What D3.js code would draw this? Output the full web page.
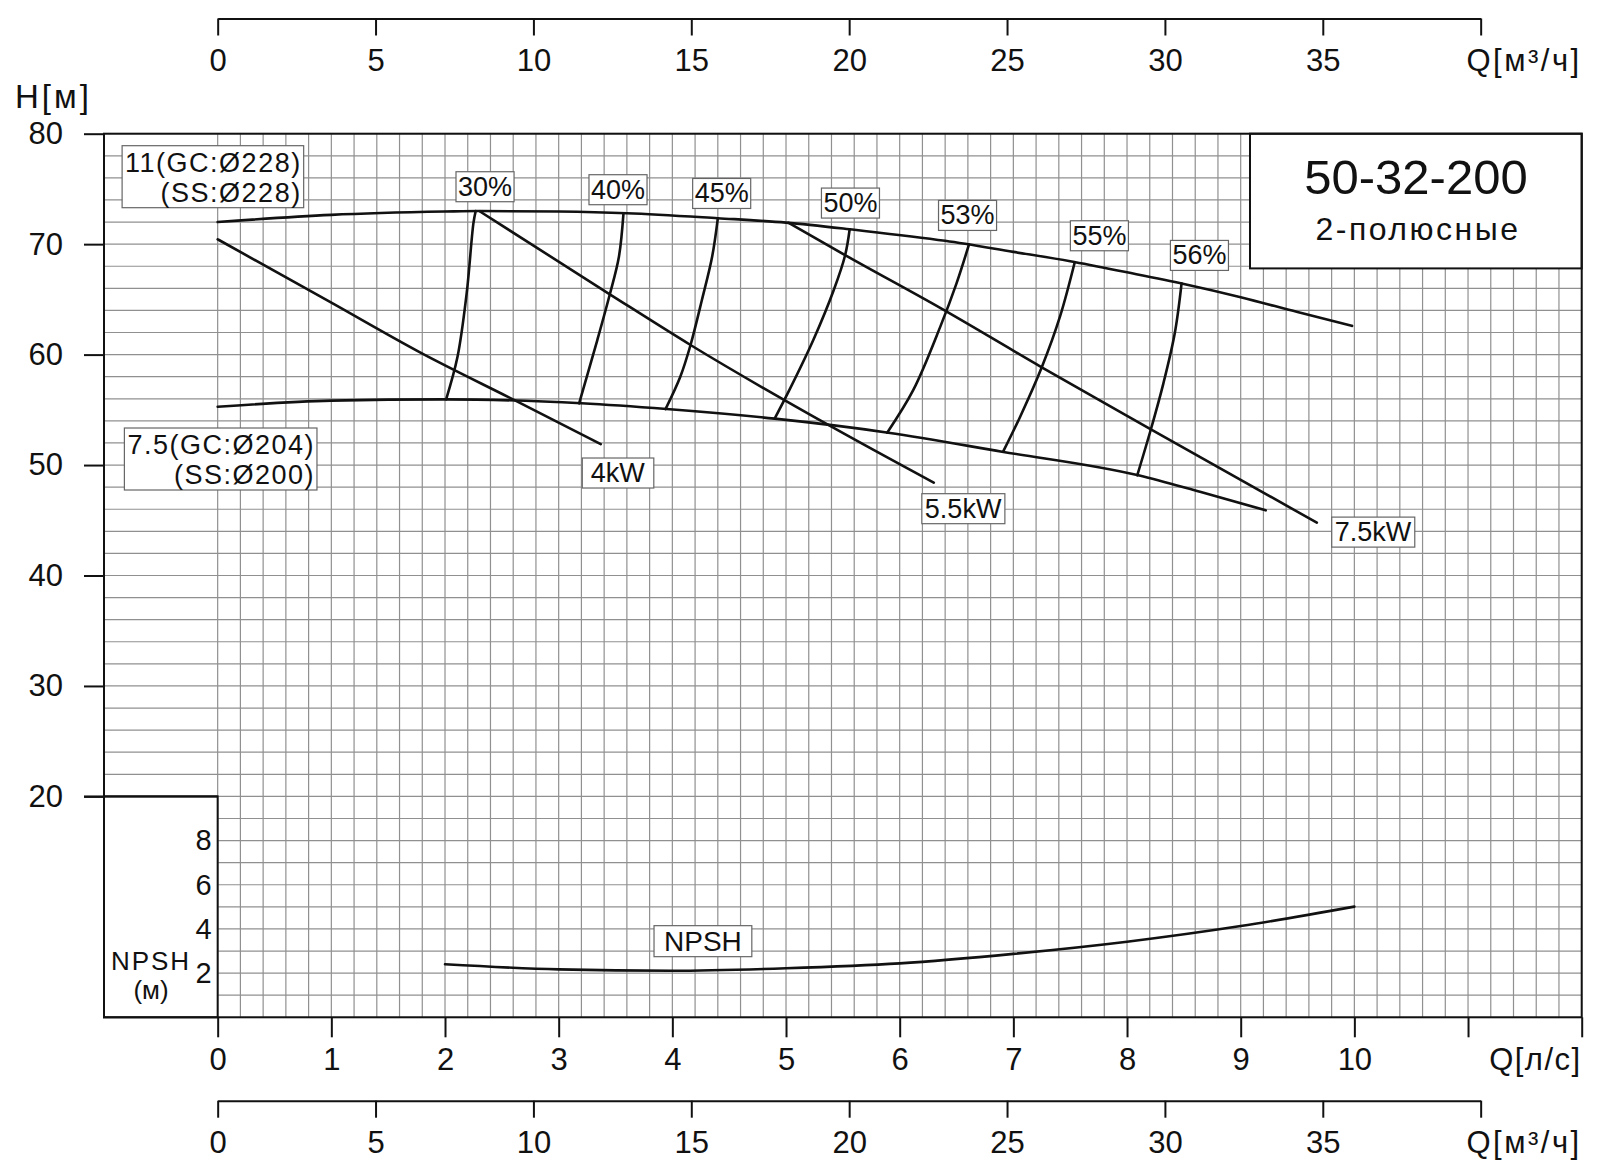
<!DOCTYPE html>
<html>
<head>
<meta charset="utf-8">
<script src="https://cdn.jsdelivr.net/npm/d3@7"></script>
<style>
    body { margin: 0; background: #fff; }
    svg { display: block; font-family: "Liberation Sans", Arial, sans-serif; }
</style>
</head>
<body>
<svg id="chart" width="1600" height="1175"></svg>
<script>
// ---- data (Q in l/s, H in m, NPSH in m) ----
var headTicks = [20, 30, 40, 50, 60, 70, 80];
var npshTicks = [2, 4, 6, 8];
var flowTicksLs = d3.range(0, 13);
var flowTicksM3 = d3.range(0, 41, 5);

// impeller 11 (GC:Ø228 / SS:Ø228)
var head228 = [[0, 72.0], [1, 72.65], [2, 72.95], [2.3, 73.0], [3, 72.95], [3.6, 72.8], [4.4, 72.35],
    [5, 71.95], [5.6, 71.3], [6.4, 70.3], [7, 69.3], [7.5, 68.45], [8, 67.45], [8.5, 66.4],
    [9, 65.2], [9.5, 63.85], [9.98, 62.6]];
// impeller 7.5 (GC:Ø204 / SS:Ø200)
var head204 = [[0, 55.28], [1, 55.83], [2, 55.95], [3.2, 55.59], [3.95, 55.07], [4.9, 54.2],
    [5.9, 52.93], [6.9, 51.21], [8.1, 49.07], [8.65, 47.55], [9.22, 45.9]];

// motor power limits
var power4 = [[0, 70.44], [1, 64.7], [1.78, 60.2], [2.62, 55.83], [3.37, 51.9]];
var power55 = [[2.31, 72.94], [3.45, 65.46], [4.16, 60.87], [5.4, 53.47], [6.3, 48.4]];
var power75 = [[5.02, 71.94], [5.52, 69.0], [6.36, 64.2], [7.25, 58.85], [8.21, 53.24], [9.67, 44.78]];

// iso-efficiency lines
var eff30 = [[2.01, 55.95], [2.11, 59.8], [2.19, 65.5], [2.25, 71.9], [2.27, 73.0]];
var eff40 = [[3.18, 55.59], [3.34, 61.32], [3.45, 65.46], [3.53, 68.86], [3.57, 72.79]];
var eff45 = [[3.94, 55.07], [4.07, 58.0], [4.16, 60.87], [4.26, 64.94], [4.35, 68.86], [4.4, 72.34]];
var eff50 = [[4.9, 54.2], [5.03, 56.8], [5.24, 61.32], [5.42, 65.85], [5.52, 69.0], [5.56, 71.35]];
var eff53 = [[5.89, 52.93], [6.12, 56.8], [6.36, 62.6], [6.5, 66.45], [6.61, 69.98]];
var eff55 = [[6.91, 51.21], [7.06, 54.38], [7.25, 58.85], [7.41, 63.43], [7.54, 68.36]];
var eff56 = [[8.09, 49.07], [8.21, 53.24], [8.32, 57.4], [8.42, 61.93], [8.48, 66.45]];

// NPSH required
var npsh = [[2, 2.40], [3, 2.17], [4, 2.11], [5, 2.22], [6, 2.44], [7, 2.87], [8, 3.42], [9, 4.13], [10, 5.01]];

// labels (anchor in Q / H units)
var effLabels = [
    {text: "30%", q: 2.352, h: 75.24}, {text: "40%", q: 3.522, h: 74.97},
    {text: "45%", q: 4.434, h: 74.63}, {text: "50%", q: 5.567, h: 73.76},
    {text: "53%", q: 6.597, h: 72.64}, {text: "55%", q: 7.757, h: 70.8},
    {text: "56%", q: 8.637, h: 69.02}
];
var powerLabels = [
    {text: "4kW", q: 3.52, h: 49.32, pad: 8.5},
    {text: "5.5kW", q: 6.558, h: 46.09, pad: 3},
    {text: "7.5kW", q: 10.164, h: 43.97, pad: 3}
];
var impellerLabels = [
    {lines: ["11(GC:Ø228)", "(SS:Ø228)"], q: 0.739, h: 76.56},
    {lines: ["7.5(GC:Ø204)", "(SS:Ø200)"], q: 0.856, h: 51.0}
];

// ---- scales ----
var svg = d3.select("#chart"),
    ink = "#111";

var x = d3.scaleLinear().domain([-1, 12]).range([104, 1581.7]),
    y = d3.scaleLinear().domain([0, 80]).range([1017.3, 133.7]),
    yN = d3.scaleLinear().domain([0, 10]).range([1017.3, 796.4]),
    xM3 = d3.scaleLinear().domain([0, 40]).range([x(0), x(40 / 3.6)]);

// ---- grid ----
var grid = svg.append("g").attr("stroke", "#909090").attr("stroke-width", 1.2);

grid.selectAll("line.v")
    .data(d3.range(0, 60.5, 1).map(function (i) { return i * 0.2; }))
    .enter().append("line")
    .attr("x1", function (d) { return x(d); })
    .attr("x2", function (d) { return x(d); })
    .attr("y1", y(80))
    .attr("y2", y(0));

grid.selectAll("line.h")
    .data(d3.range(0, 81, 2))
    .enter().append("line")
    .attr("x1", function (d) { return d >= 20 ? x(-1) : x(0); })
    .attr("x2", x(12))
    .attr("y1", function (d) { return y(d); })
    .attr("y2", function (d) { return y(d); });

// ---- curves ----
var lineH = d3.line()
    .x(function (d) { return x(d[0]); })
    .y(function (d) { return y(d[1]); });

var curves = svg.append("g")
    .attr("fill", "none")
    .attr("stroke", ink)
    .attr("stroke-width", 2.6)
    .attr("stroke-linecap", "round");

[head228, head204, power4, power55, power75].forEach(function (c) {
    curves.append("path").attr("d", lineH.curve(d3.curveMonotoneX)(c));
});
[eff30, eff40, eff45, eff50, eff53, eff55, eff56].forEach(function (c) {
    curves.append("path").attr("d", lineH.curve(d3.curveCatmullRom)(c));
});

curves.append("path")
    .attr("d", d3.line()
        .curve(d3.curveMonotoneX)
        .x(function (d) { return x(d[0]); })
        .y(function (d) { return yN(d[1]); })(npsh));

// ---- title box ----
svg.append("rect")
    .attr("x", 1250).attr("y", y(80))
    .attr("width", x(12) - 1250).attr("height", 268.4 - y(80))
    .attr("fill", "#fff").attr("stroke", ink).attr("stroke-width", 2);
svg.append("text")
    .attr("x", 1416).attr("y", 194)
    .attr("text-anchor", "middle").attr("font-size", 49).attr("fill", ink)
    .text("50-32-200");
svg.append("text")
    .attr("x", 1418).attr("y", 240)
    .attr("text-anchor", "middle").attr("font-size", 32).attr("letter-spacing", 2.5).attr("fill", ink)
    .text("2-полюсные");

// ---- boxed labels ----
function boxed(g, pad) {
    var b = g.select("text").node().getBBox();
    g.insert("rect", "text")
        .attr("x", b.x - pad).attr("y", b.y)
        .attr("width", b.width + 2 * pad).attr("height", b.height)
        .attr("fill", "#fff").attr("stroke", "#666").attr("stroke-width", 1.2);
}

effLabels.forEach(function (l) {
    var g = svg.append("g");
    g.append("text")
        .attr("x", x(l.q)).attr("y", y(l.h)).attr("dy", "0.35em")
        .attr("text-anchor", "middle").attr("font-size", 27).attr("fill", ink)
        .text(l.text);
    boxed(g, 2);
});

powerLabels.forEach(function (l) {
    var g = svg.append("g");
    g.append("text")
        .attr("x", x(l.q)).attr("y", y(l.h)).attr("dy", "0.35em")
        .attr("text-anchor", "middle").attr("font-size", 27).attr("fill", ink)
        .text(l.text);
    boxed(g, l.pad);
});

impellerLabels.forEach(function (l) {
    var g = svg.append("g");
    var t = g.append("text")
        .attr("text-anchor", "end").attr("font-size", 27).attr("letter-spacing", 1.5).attr("fill", ink);
    l.lines.forEach(function (s, i) {
        t.append("tspan").attr("x", x(l.q)).attr("y", y(l.h) + i * 30).text(s);
    });
    var b = t.node().getBBox();
    g.insert("rect", "text")
        .attr("x", b.x - 3).attr("y", b.y - 2)
        .attr("width", b.width + 5).attr("height", b.height + 2)
        .attr("fill", "#fff").attr("stroke", "#666").attr("stroke-width", 1.2);
});

var gN = svg.append("g");
gN.append("text")
    .attr("x", x(4.269)).attr("y", yN(3.46)).attr("dy", "0.35em")
    .attr("text-anchor", "middle").attr("font-size", 28).attr("fill", ink)
    .text("NPSH");
boxed(gN, 10);

// ---- NPSH panel ----
svg.append("rect")
    .attr("x", x(-1)).attr("y", y(20))
    .attr("width", x(0) - x(-1)).attr("height", y(0) - y(20))
    .attr("fill", "#fff").attr("stroke", ink).attr("stroke-width", 2);

// ---- frame ----
svg.append("rect")
    .attr("x", x(-1)).attr("y", y(80))
    .attr("width", x(12) - x(-1)).attr("height", y(0) - y(80))
    .attr("fill", "none").attr("stroke", ink).attr("stroke-width", 2);

// ---- axes ----
function styleAxis(g, size) {
    g.selectAll("path, line").attr("stroke", ink).attr("stroke-width", 2);
    g.selectAll("text").attr("fill", ink).attr("font-size", size)
        .attr("font-family", "Liberation Sans, Arial, sans-serif");
}

var topAxis = svg.append("g")
    .attr("transform", "translate(0,18.5)")
    .call(d3.axisBottom(xM3).tickValues(flowTicksM3).tickSize(17).tickSizeOuter(0).tickPadding(13)
        .tickFormat(function (d) { return d < 40 ? d : ""; }));
styleAxis(topAxis, 31);

var lsAxis = svg.append("g")
    .attr("transform", "translate(0," + y(0) + ")")
    .call(d3.axisBottom(x).tickValues(flowTicksLs).tickSize(20).tickPadding(11)
        .tickFormat(function (d) { return d <= 10 ? d : ""; }));
lsAxis.select(".domain").remove();
styleAxis(lsAxis, 31);

var m3Axis = svg.append("g")
    .attr("transform", "translate(0,1100.7)")
    .call(d3.axisBottom(xM3).tickValues(flowTicksM3).tickSize(17).tickSizeOuter(0).tickPadding(13)
        .tickFormat(function (d) { return d < 40 ? d : ""; }));
styleAxis(m3Axis, 31);

var hAxis = svg.append("g")
    .attr("transform", "translate(" + x(-1) + ",0)")
    .call(d3.axisLeft(y).tickValues(headTicks).tickSize(20).tickPadding(21));
hAxis.select(".domain").remove();
styleAxis(hAxis, 31);

var nAxis = svg.append("g")
    .attr("transform", "translate(" + x(0) + ",0)")
    .call(d3.axisLeft(yN).tickValues(npshTicks).tickSize(0).tickPadding(6));
nAxis.select(".domain").remove();
styleAxis(nAxis, 29);

// 20 m tick runs along the top of the NPSH panel
svg.append("line")
    .attr("x1", x(-1) - 20).attr("x2", x(0))
    .attr("y1", y(20)).attr("y2", y(20))
    .attr("stroke", ink).attr("stroke-width", 2);

// ---- axis titles ----
function title(px, py, anchor, size, s) {
    return svg.append("text")
        .attr("x", px).attr("y", py)
        .attr("text-anchor", anchor).attr("font-size", size).attr("fill", ink)
        .text(s);
}
title(15, 108, "start", 33, "H[м]").attr("letter-spacing", 3);
title(x(12), 70.5, "end", 31, "Q[м³/ч]").attr("letter-spacing", 2.5);
title(x(12), 1070, "end", 31, "Q[л/с]").attr("letter-spacing", 1.5);
title(x(12), 1153, "end", 31, "Q[м³/ч]").attr("letter-spacing", 2.5);
title(151, 970, "middle", 26, "NPSH").attr("letter-spacing", 2);
title(151, 999, "middle", 26, "(м)");
</script>
</body>
</html>
